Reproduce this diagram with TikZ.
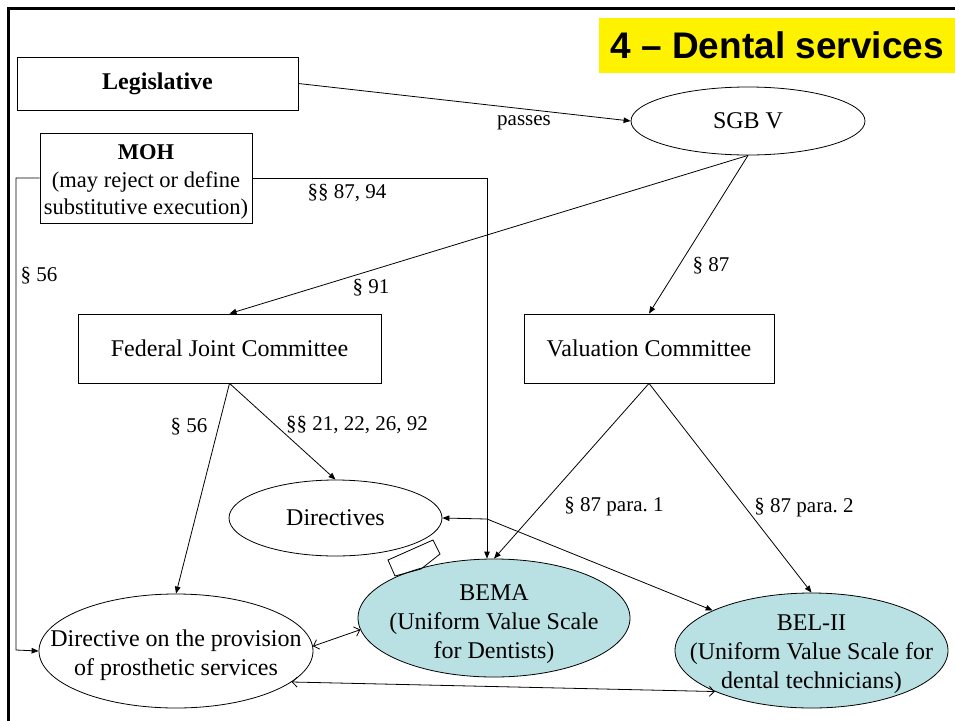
\documentclass[tikz,border=0pt]{standalone}
\usepackage{fontspec}
\setmainfont{Liberation Serif}
\newfontfamily\titlefont{Liberation Sans}
\usetikzlibrary{shapes.geometric,arrows.meta}
\definecolor{teal1}{RGB}{185,224,226}
\frenchspacing
\tikzset{
  ln/.style={line width=0.8pt},
  fa/.style={ln,-{Triangle[length=7pt,width=5.5pt]}},
  da/.style={ln,{Straight Barb[length=5pt,width=10pt]}-{Straight Barb[length=5pt,width=10pt]}},
  rbox/.style={draw,ln,rectangle,inner sep=0pt,align=center,font=\fontsize{24}{28}\selectfont},
  ell/.style={draw,ln,ellipse,inner sep=0pt},
  etext/.style={align=center,inner sep=0pt,font=\fontsize{24}{29}\selectfont},
  lab/.style={inner sep=0pt,font=\fontsize{21}{24}\selectfont}
}
\begin{document}
\begin{tikzpicture}[x=1pt,y=-1pt]
\useasboundingbox (0,0) rectangle (955,720);
% frame
\draw[line width=3pt] (8,722) -- (8,8.5) -- (957,8.5);
% title
\node[fill=yellow,minimum width=356,minimum height=55,inner sep=0pt,anchor=north west,
      font=\titlefont\bfseries\fontsize{37}{40}\selectfont] (title) at (599,18) {4 – Dental services};
% boxes
\node[rbox,minimum width=281,minimum height=53] (leg) at (157.5,83.5) {\textbf{Legislative}};
\node[rbox,minimum width=212,minimum height=90] (moh) at (146,178) {};
\node[etext,font=\fontsize{22.5}{27.5}\selectfont] (moht) at (146,182) {\textbf{MOH}\\(may reject or define\\substitutive execution)};
\node[rbox,minimum width=303,minimum height=69] (fjc) at (229.5,348.5) {Federal Joint Committee};
\node[rbox,minimum width=250,minimum height=69] (val) at (649,348.5) {Valuation Committee};
% ellipses
\node[ell,minimum width=234,minimum height=68] (sgb) at (748,121) {};
\node[etext] (sgbt) at (sgb) {SGB V};
\node[ell,minimum width=213,minimum height=76] (dir) at (335.5,518) {};
\node[etext] (dirt) at (dir) {Directives};
\node[ell,minimum width=274,minimum height=114] (dprov) at (176,651) {};
\node[etext] (dprovt) at (176,655) {Directive on the provision\\of prosthetic services};
\node[ell,fill=teal1,minimum width=272,minimum height=118] (bema) at (494,618) {};
\node[etext] (bemat) at (494,624) {BEMA\\(Uniform Value Scale\\for Dentists)};
\node[ell,fill=teal1,minimum width=273,minimum height=115] (bel) at (811.5,650.5) {};
\node[etext] (belt) at (811.5,654) {BEL-II\\(Uniform Value Scale for\\dental technicians)};
% small artifact shape
\draw[ln] (388,560) -- (433,540) -- (440,554) -- (421,569) -- (395,576) -- cycle;
% connectors
\draw[fa] (leg.east) -- (sgb.west);
\draw[fa] (sgb.south) -- (fjc.north);
\draw[fa] (sgb.south) -- (val.north);
\draw[fa] (fjc.south) -- (dprov.north);
\draw[fa] (fjc.south) -- (dir.north);
\draw[fa] (val.south) -- (bema.north);
\draw[fa] (val.south) -- (bel.north);
\coordinate (j) at (487,519);
\draw[ln] (moh.east) -- (487,178) -- (j);
\draw[fa] (j) -- (dir.east);
\draw[fa] (j) -- (j |- bema.north);
\draw[fa] (j) -- (bel);
\draw[fa] (moh.west) -- (16,178) -- (16,650) -- (dprov.west);
\draw[da] (dprov.2) -- (bema.185);
\draw[da] (dprov.-15) -- (bel.203);
% labels
\node[lab] (l1) at (524,123) {passes};
\node[lab] (l2) at (347,193) {§§ 87, 94};
\node[lab] (l3) at (39,276) {§ 56};
\node[lab] (l4) at (371,288) {§ 91};
\node[lab] (l5) at (711,266) {§ 87};
\node[lab] (l6) at (189,427) {§ 56};
\node[lab] (l7) at (357,425) {§§ 21, 22, 26, 92};
\node[lab] (l8) at (614,507) {§ 87 para. 1};
\node[lab] (l9) at (804,508) {§ 87 para. 2};
\end{tikzpicture}
\end{document}
